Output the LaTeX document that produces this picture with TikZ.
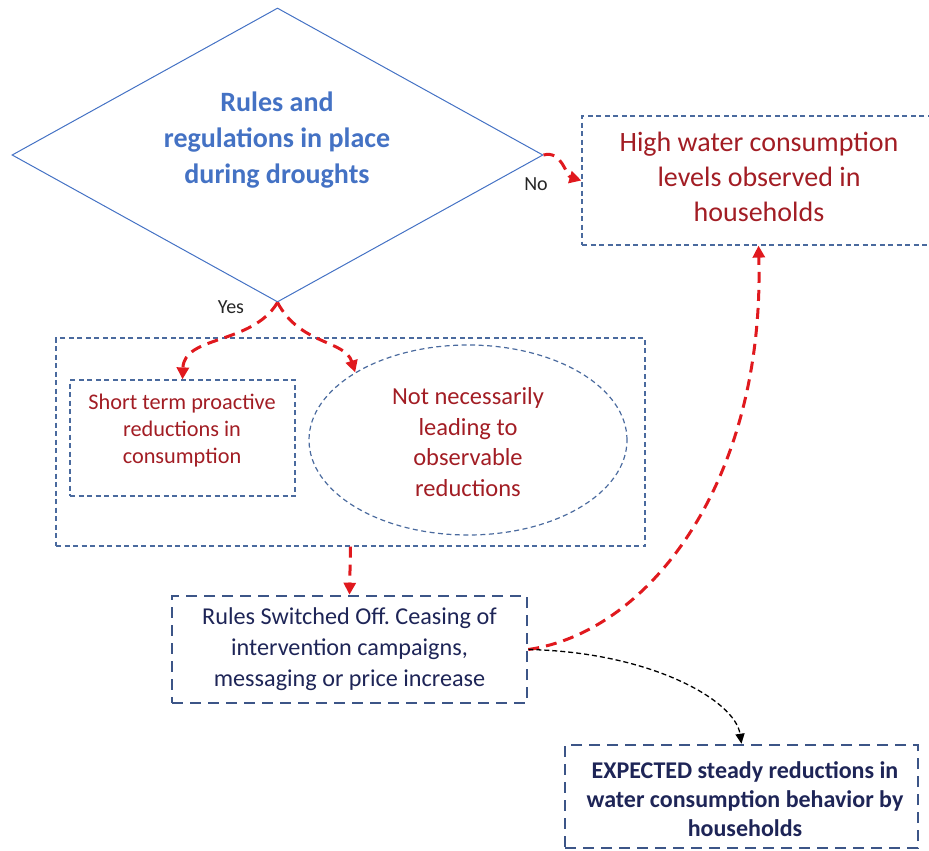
\documentclass[tikz,border=0pt]{standalone}
\usepackage{fontspec}
\setmainfont{Carlito}
\usetikzlibrary{shapes.geometric, arrows.meta}
\frenchspacing

\definecolor{dblue}{HTML}{4472C4}
\definecolor{frame}{HTML}{4A6A9E}
\definecolor{framedark}{HTML}{3C5587}
\definecolor{txtred}{HTML}{A21D24}
\definecolor{arrred}{HTML}{E0191E}
\definecolor{navy}{HTML}{1E2557}

\tikzset{
  thinbox/.style={draw=frame, line width=1.2pt, dash pattern=on 5pt off 3.5pt},
  thickbox/.style={draw=framedark, line width=2.6pt, dash pattern=on 11pt off 7pt},
  redarrow/.style={draw=arrred, line width=3pt, dash pattern=on 11pt off 7pt,
    -{Triangle[length=12pt,width=12pt]}},
  blackarrow/.style={draw=black, line width=1.3pt, dash pattern=on 5pt off 3pt,
    -{Triangle[length=10pt,width=9pt]}},
  redtext/.style={text=txtred, align=center},
  navytext/.style={text=navy, align=center},
}

\begin{document}
\begin{tikzpicture}[x=1pt, y=-1pt]
  \useasboundingbox (0,0) rectangle (929,851);

  % decision diamond
  \node[diamond, draw=dblue, line width=1pt, minimum width=531pt,
        minimum height=294pt, inner sep=0pt] (dia) at (277.5,155) {};
  \node[text=dblue, align=center, font=\bfseries\fontsize{28}{36}\selectfont]
        (diatext) at (277,140) {Rules and\\regulations in place\\during droughts};

  % "No" outcome
  \node[rectangle, thinbox, minimum width=353pt, minimum height=129pt]
        (high) at (758.5,180.5) {};
  \node[redtext, font=\fontsize{28}{35}\selectfont] (hightext) at (759,177)
        {High water consumption\\levels observed in\\households};

  % "Yes" outcomes
  \node[rectangle, thinbox, minimum width=589pt, minimum height=208pt]
        (cont) at (350.5,442) {};
  \node[rectangle, thinbox, minimum width=225pt, minimum height=116pt]
        (short) at (182.5,438) {};
  \node[redtext, font=\fontsize{22.3}{27}\selectfont] (shorttext) at (182,431)
        {Short term proactive\\reductions in\\consumption};
  \node[ellipse, thinbox, minimum width=318pt, minimum height=190pt, inner sep=0pt]
        (ell) at (468,440) {};
  \node[redtext, font=\fontsize{24.5}{30.5}\selectfont] (elltext) at (468,442)
        {Not necessarily\\leading to\\observable\\reductions};

  % rules switched off
  \node[rectangle, thickbox, minimum width=355pt, minimum height=107pt]
        (rules) at (349.5,649.5) {};
  \node[navytext, font=\fontsize{24.2}{31}\selectfont] (rulestext) at (349.5,649)
        {Rules Switched Off. Ceasing of\\intervention campaigns,\\messaging or price increase};

  % expected outcome
  \node[rectangle, thickbox, minimum width=353pt, minimum height=103pt]
        (exp) at (741.5,796.5) {};
  \node[navytext, font=\bfseries\fontsize{24}{29}\selectfont] (exptext) at (745,799)
        {EXPECTED steady reductions in\\water consumption behavior by\\households};

  % branch labels
  \node[font=\fontsize{20}{22}\selectfont, text=black!85] (nolab) at (536,184) {No};
  \node[font=\fontsize{20}{22}\selectfont, text=black!85] (yeslab) at (231,307) {Yes};

  % connectors
  \draw[redarrow] (dia.east) .. controls (562,150) and (566,176) .. (high.west);
  \draw[redarrow] (dia.south) .. controls (252,345) and (184,335) .. (short.north);
  \draw[redarrow] (dia.south) .. controls (300,345) and (345,340) .. (ell.north west);
  \draw[redarrow] (cont.south) -- (rules.north);
  \draw[redarrow] (rules.east) .. controls (650,632) and (765,480) .. (high.south);
  \draw[blackarrow] (rules.east) .. controls (650,652) and (735,700) .. (exp.north);
\end{tikzpicture}
\end{document}
